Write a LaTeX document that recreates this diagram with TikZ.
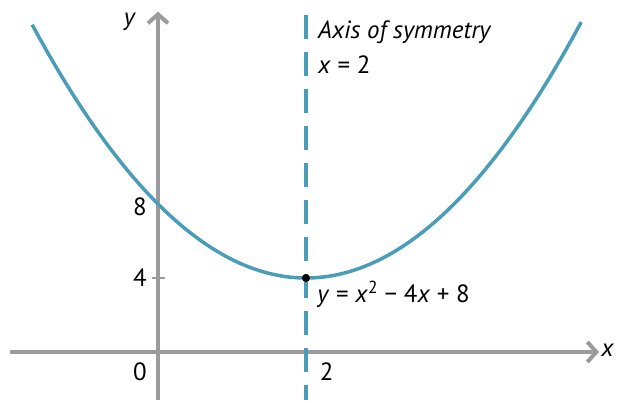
\documentclass[tikz,border=0pt]{standalone}
\usepackage{fontspec}
\setmainfont{PT Sans}
\usetikzlibrary{arrows.meta}
\definecolor{curvecol}{HTML}{4A9DB8}
\definecolor{axisgray}{HTML}{9B9B9E}
\begin{document}
\begin{tikzpicture}[x=74bp,y=18.5bp,
  font=\fontsize{25}{30}\selectfont,
  axisline/.style={axisgray, line width=3.5bp, -{Straight Barb[length=9bp,width=20bp,line width=4bp]}},
  symline/.style={curvecol, line width=3.5bp, dash pattern=on 24bp off 13bp},
  parab/.style={curvecol, line width=3.5bp},
  lab/.style={inner sep=0pt}]
\useasboundingbox (-2.1351,-2.7568) rectangle (6.2297,19.027);
% axes
\coordinate (xl) at (-2.0,0);
\coordinate (xr) at (5.96,0);
\coordinate (yb) at (0,-2.6);
\coordinate (yt) at (0,18.4);
\draw[axisline] (xl) -- (xr);
\draw[axisline] (yb) -- (yt);
% tick at 4
\coordinate (t1) at (-0.08,4);
\coordinate (t2) at (0.095,4);
\draw[axisgray, line width=1.2bp] (t1) -- (t2);
% axis of symmetry
\coordinate (sb) at (2,-2.6);
\coordinate (st) at (2,18.2);
\draw[symline] (st) -- (sb);
% parabola
\draw[parab] plot[domain=-1.7:5.72, samples=120, smooth] (\x, {\x*\x-4*\x+8});
% vertex
\node[circle, fill=black, inner sep=0pt, minimum size=8bp] (v) at (2,4) {};
% labels
\node[lab] (ylab) at (-0.378,17.84) {\textit{y}};
\node[lab, anchor=west] (xlab) at (5.99,0.1) {\textit{x}};
\node[lab] (zero) at (-0.243,-1.08) {0};
\node[lab] (two) at (2.28,-1.08) {2};
\node[lab] (eight) at (-0.243,7.84) {8};
\node[lab] (four) at (-0.243,4.0) {4};
\node[lab, anchor=base west] (ax1) at (2.162,16.92) {\textit{Axis of symmetry}};
\node[lab, anchor=base west] (ax2) at (2.162,15.03) {\textit{x} = 2};
\node[lab, anchor=base west] (eq) at (2.15,2.65) {\textit{y} = \textit{x}\textsuperscript{2} − 4\textit{x} + 8};
\end{tikzpicture}
\end{document}
